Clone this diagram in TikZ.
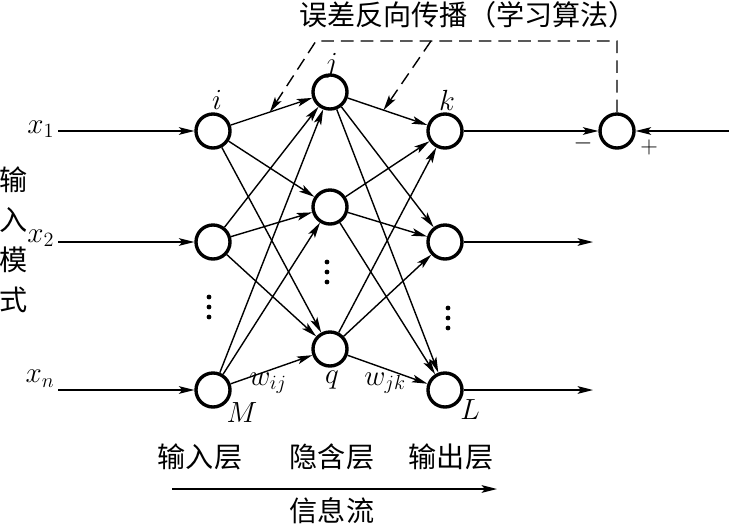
\documentclass[tikz,border=0pt]{standalone}
\usepackage{amsmath}
\usepackage{fontspec}
\newfontfamily\cjk{Noto Sans CJK SC}
\usetikzlibrary{arrows.meta}

\begin{document}
\begin{tikzpicture}[x=0.025cm,y=-0.025cm,
  font=\fontsize{21}{24}\selectfont,
  >={Stealth[length=11pt,width=5.5pt,inset=2.5pt]},
  neuron/.style={circle,draw,line width=2.4pt,minimum size=0.85cm,inner sep=0pt},
  link/.style={->,line width=1pt},
  fb/.style={->,line width=1pt,dash pattern=on 9pt off 5pt},
  dot/.style={circle,fill,inner sep=0pt,minimum size=0.12cm},
  cjktext/.style={font=\fontsize{20}{24}\selectfont\cjk},
  sign/.style={font=\fontsize{18}{20}\selectfont}]
\useasboundingbox(0,0) rectangle (729,526);
\node[neuron](in1) at (213,131){};
\node[neuron](in2) at (213,242){};
\node[neuron](in3) at (213,390){};
\node[neuron](hid1) at (330,92){};
\node[neuron](hid2) at (330,207){};
\node[neuron](hid3) at (330,349){};
\node[neuron](out1) at (445,131){};
\node[neuron](out2) at (445,242){};
\node[neuron](out3) at (445,390){};
\node[neuron](cmp) at (617,131){};
\node[dot](da1) at (209,297){};
\node[dot](da2) at (209,307){};
\node[dot](da3) at (209,317){};
\node[dot](db1) at (327,262){};
\node[dot](db2) at (327,272){};
\node[dot](db3) at (327,282){};
\node[dot](dc1) at (448,308){};
\node[dot](dc2) at (448,318){};
\node[dot](dc3) at (448,328){};
\coordinate(s1) at (58,131);
\coordinate(s2) at (58,242);
\coordinate(s3) at (58,390);
\coordinate(e0) at (729,131);
\coordinate(e2) at (593,242);
\coordinate(e3) at (593,390);
\coordinate(c1) at (617,41);
\coordinate(c2) at (316,41);
\coordinate(c3) at (431,41);
\coordinate(f1) at (172,489);
\coordinate(f2) at (497,489);
\draw[link](s1) -- (in1);
\draw[link](s2) -- (in2);
\draw[link](s3) -- (in3);
\draw[link](in1) -- coordinate[pos=0.48](fb1) (hid1);
\draw[link](in1) -- (hid2);
\draw[link](in1) -- (hid3);
\draw[link](in2) -- (hid1);
\draw[link](in2) -- (hid2);
\draw[link](in2) -- (hid3);
\draw[link](in3) -- (hid1);
\draw[link](in3) -- (hid2);
\draw[link](in3) -- (hid3);
\draw[link](hid1) -- coordinate[pos=0.45](fb2) (out1);
\draw[link](hid1) -- (out2);
\draw[link](hid1) -- (out3);
\draw[link](hid2) -- (out1);
\draw[link](hid2) -- (out2);
\draw[link](hid2) -- (out3);
\draw[link](hid3) -- (out1);
\draw[link](hid3) -- (out2);
\draw[link](hid3) -- (out3);
\draw[link](out1) -- (cmp);
\draw[link](out2) -- (e2);
\draw[link](out3) -- (e3);
\draw[link](e0) -- (cmp);
\draw[fb](cmp) -- (c1) -- (c2) -- (fb1);
\draw[fb](c3) -- (fb2);
\draw[link](f1) -- (f2);
\node[cjktext](title) at (468,15){误差反向传播（学习算法）};
\node[align=center,inner sep=0pt,font=\fontsize{20}{28.5}\selectfont\cjk](mode) at (14,240){输\\入\\模\\式};
\node[anchor=east,inner sep=1pt](lx1) at (56,129){$x_1$};
\node[anchor=east,inner sep=1pt](lx2) at (56,238){$x_2$};
\node[anchor=south east,inner sep=1pt](lxn) at (56,389){$x_n$};
\node(li) at (217,100){$i$};
\node(lj) at (331,66){$j$};
\node(lk) at (447,100){$k$};
\node(lM) at (242,413){$M$};
\node(lq) at (332,380){$q$};
\node(lL) at (470,410){$L$};
\node(lwij) at (268,383){$w_{ij}$};
\node(lwjk) at (385,383){$w_{jk}$};
\node[sign](lminus) at (583,143){$-$};
\node[sign](lplus) at (649,147){$+$};
\node[cjktext](layer1) at (200,457){输入层};
\node[cjktext](layer2) at (332,457){隐含层};
\node[cjktext](layer3) at (451,457){输出层};
\node[cjktext](flow) at (332,511){信息流};
\end{tikzpicture}
\end{document}
